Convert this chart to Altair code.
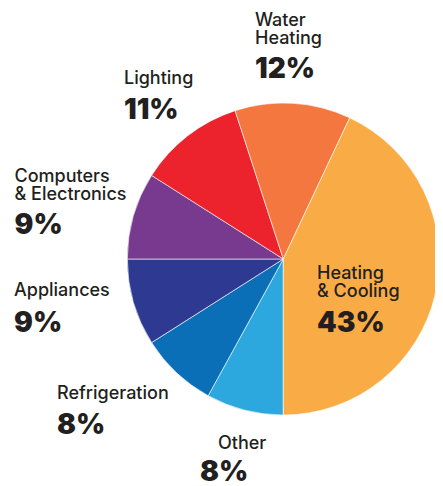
import math
import altair as alt
import pandas as pd

# Data (clockwise from 6 o'clock)
categories = ["Other", "Refrigeration", "Appliances", "Computers\n& Electronics",
              "Lighting", "Water\nHeating", "Heating\n& Cooling"]
shares = [8, 8, 9, 9, 11, 12, 43]
colors = ["#2DA8DF", "#0A6FB6", "#2E3A92", "#773A8E", "#EC232D", "#F3773E", "#F9AC45"]

# Label layout (pixel anchors inside the chart): name x, name baseline y, pct x, pct baseline y
name_x = [210, 49, 6, 6.5, 116, 247, 309]
name_y = [441, 391, 288, 174, 76, 18, 271]
pct_x = [192, 49, 6, 6.5, 116, 247, 309]
pct_y = [473, 426, 324, 226, 111, 70, 324]

df = pd.DataFrame({
    "cat": categories,
    "share": shares,
    "idx": list(range(len(categories))),
    "pct": [f"{s}%" for s in shares],
    "nx": name_x, "ny": name_y, "px": pct_x, "py": pct_y,
})

W, H = 427, 478
CX, CY, R = 275.3, 251, 156

pie = alt.Chart(df).mark_arc(radius=R, x=CX, y=CY, stroke="#ffffff", strokeWidth=0.6).encode(
    theta=alt.Theta("share:Q", stack=True, scale=alt.Scale(range=[math.pi, 3 * math.pi])),
    order=alt.Order("idx:Q"),
    color=alt.Color("cat:N", scale=alt.Scale(domain=categories, range=colors), legend=None),
)

xs = alt.Scale(domain=[0, W], range=[0, W])
ys = alt.Scale(domain=[0, H], range=[0, H])

names = alt.Chart(df).mark_text(
    align="left", baseline="alphabetic", font="Inter", fontSize=18, fontWeight=500,
    color="#231F20", lineBreak="\n", lineHeight=17.5,
).encode(
    x=alt.X("nx:Q", scale=xs, axis=None),
    y=alt.Y("ny:Q", scale=ys, axis=None),
    text="cat:N",
)

pcts = alt.Chart(df).mark_text(
    align="left", baseline="alphabetic", font="Inter", fontSize=28, fontWeight=900,
    color="#231F20",
).encode(
    x=alt.X("px:Q", scale=xs, axis=None),
    y=alt.Y("py:Q", scale=ys, axis=None),
    text="pct:N",
)

chart = alt.layer(pie, names, pcts).properties(
    width=W, height=H, padding=0,
    autosize=alt.AutoSizeParams(type="none"),
).configure_view(stroke=None)

chart.save("out.html", embed_options={"renderer": "svg", "actions": False})
